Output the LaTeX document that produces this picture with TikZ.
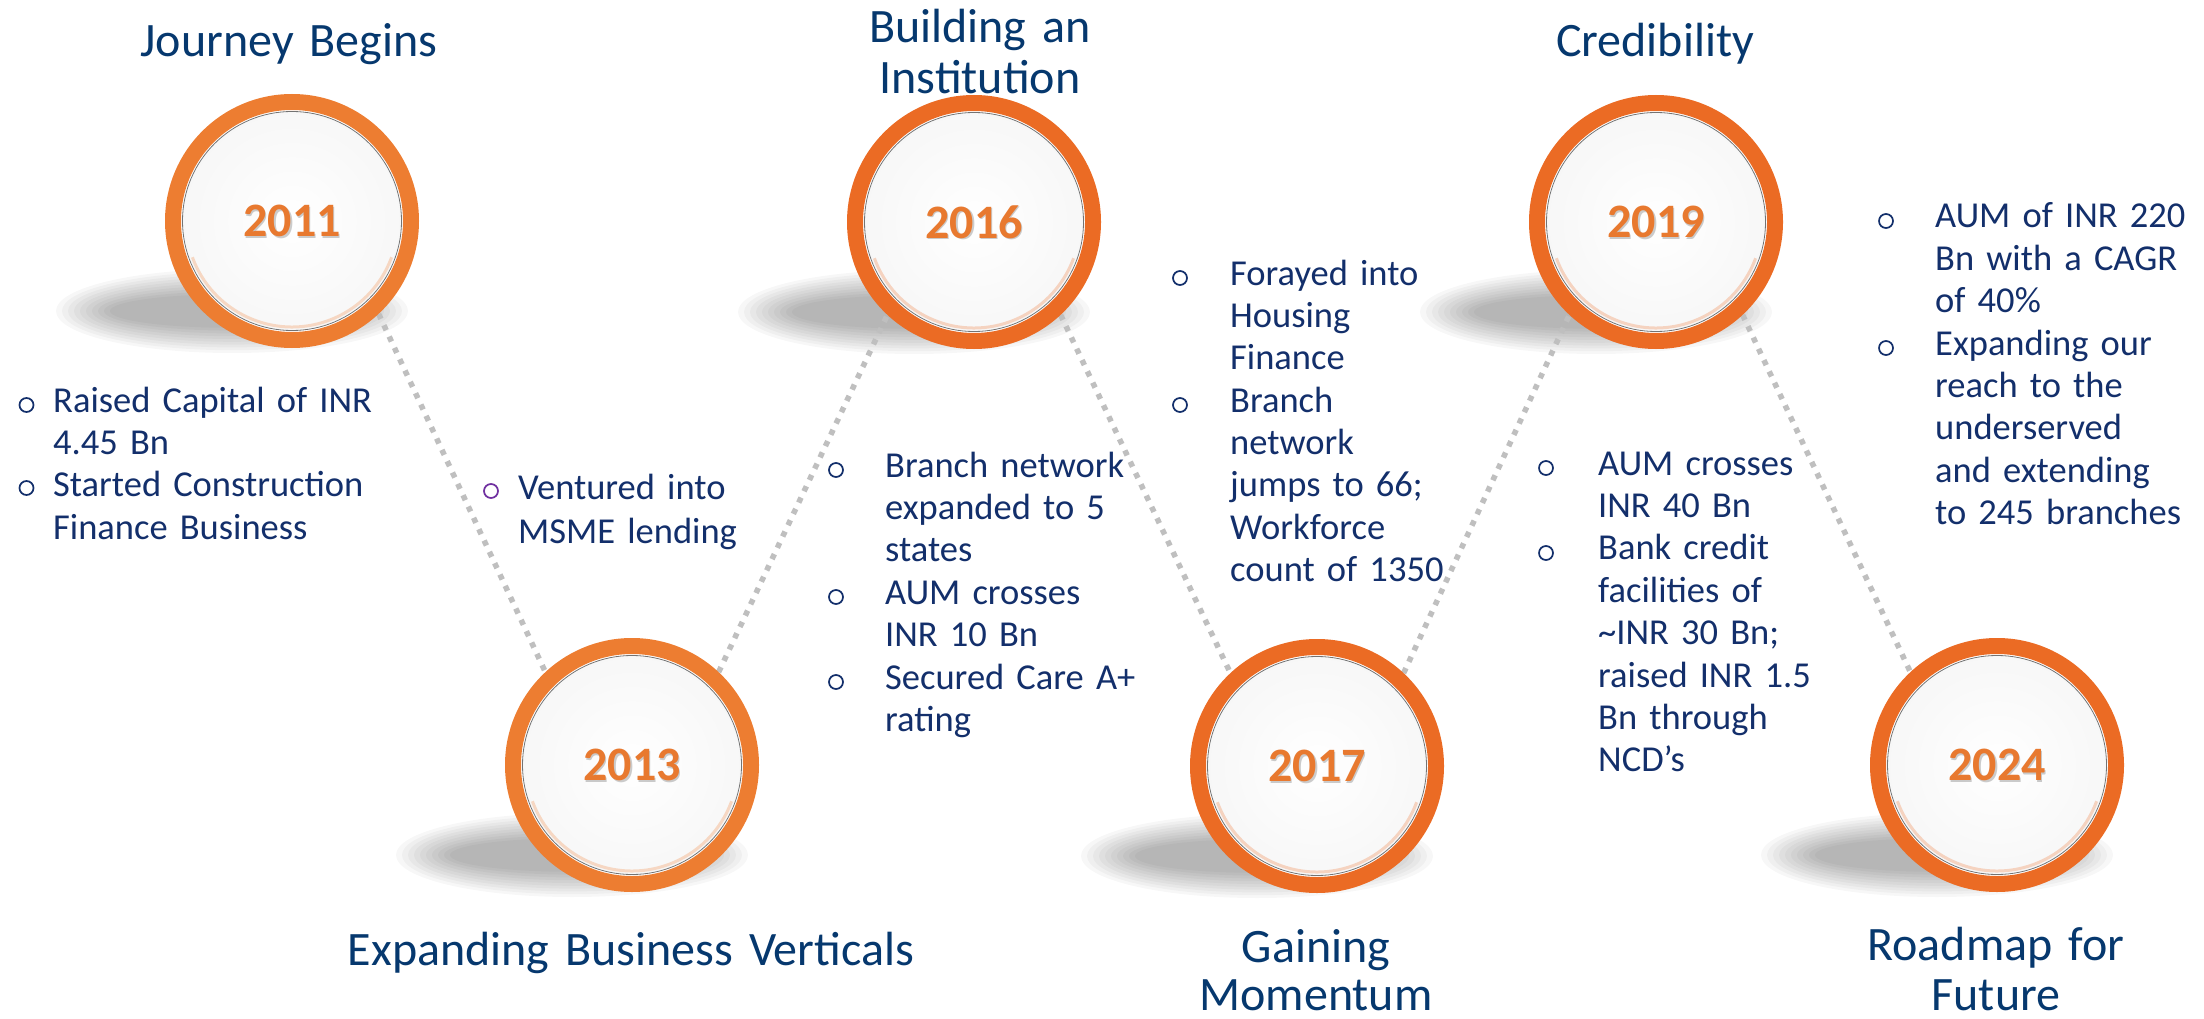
\documentclass[tikz,border=0pt]{standalone}
\usepackage{fontspec}
\setmainfont{Carlito}
\usetikzlibrary{backgrounds}
\definecolor{ringA}{HTML}{ED7D31}
\definecolor{ringB}{HTML}{EB6B24}
\definecolor{yearc}{HTML}{E8792F}
\definecolor{titlec}{HTML}{06386E}
\definecolor{bodyc}{HTML}{132F6B}
\definecolor{dotc}{HTML}{BFBFBF}
\definecolor{purp}{HTML}{7030A0}
\tikzset{
  ringnode/.style={circle, draw=#1, line width=16pt, minimum size=238pt, inner sep=0pt, fill=white},
  yeartxt/.style={font=\fontsize{48}{50}\selectfont\bfseries, text=yearc, inner sep=0pt},
  yearshadow/.style={font=\fontsize{48}{50}\selectfont\bfseries, text=black, opacity=0.2, inner sep=0pt},
  headtxt/.style={font=\fontsize{48}{50.5}\selectfont, text=titlec, align=center, text width=700pt, inner sep=0pt, anchor=base},
  bodytxt/.style={font=\fontsize{36.5}{42.4}\selectfont, text=bodyc, align=left, text width=420pt, inner sep=0pt, anchor=base west},
  bulletc/.style={draw=#1, line width=1.7pt},
  dotlink/.style={draw=dotc, line width=5.5pt, dash pattern=on 5.5pt off 7pt},
}
\begin{document}
\begin{tikzpicture}[x=1pt, y=-1pt]
\useasboundingbox (0,0) rectangle (2204,1019);

% circles
\node[ringnode=ringA] (c1) at (292,221) {};
\node[ringnode=ringA] (c2) at (632,765) {};
\node[ringnode=ringB] (c3) at (974,222) {};
\node[ringnode=ringB] (c4) at (1317,766) {};
\node[ringnode=ringB] (c5) at (1656,222) {};
\node[ringnode=ringB] (c6) at (1997,765) {};

\foreach \n/\rc in {c1/ringA,c2/ringA,c3/ringB,c4/ringB,c5/ringB,c6/ringB}{
  \shade[inner color=white, outer color=black!3] (\n.center) circle (109pt);
  \draw[\rc!60, line width=3pt, opacity=0.45] ([shift={(200:106pt)}]\n.center) arc (200:340:106pt);
  \draw[black!55, line width=0.8pt] (\n.center) circle (109.5pt);
}

% background, shadows and dotted connectors behind
\begin{scope}[on background layer]
\fill[white] (0,0) rectangle (2204,1019);
\foreach \n in {c1,c2,c3,c4,c5,c6}{
  \foreach \k in {0,...,9}{
    \pgfmathsetmacro\rx{176-6*\k}
    \pgfmathsetmacro\ry{42-2.8*\k}
    \fill[black, opacity=0.03] ([xshift=-60pt,yshift=-90pt]\n.center) ellipse (\rx pt and \ry pt);
  }
}
\draw[dotlink] (c1.-47) -- (c2.133);
\draw[dotlink] (c2.47) -- (c3.227);
\draw[dotlink] (c3.-47) -- (c4.133);
\draw[dotlink] (c4.47) -- (c5.227);
\draw[dotlink] (c5.-47) -- (c6.133);
\end{scope}

% years
\node[yearshadow] (s1) at ([xshift=1.5pt,yshift=-1.5pt]c1.center) {2011};
\node[yeartxt] (y1) at (c1.center) {2011};
\node[yearshadow] (s2) at ([xshift=1.5pt,yshift=-1.5pt]c2.center) {2013};
\node[yeartxt] (y2) at (c2.center) {2013};
\node[yearshadow] (s3) at ([xshift=1.5pt,yshift=-1.5pt]c3.center) {2016};
\node[yeartxt] (y3) at (c3.center) {2016};
\node[yearshadow] (s4) at ([xshift=1.5pt,yshift=-1.5pt]c4.center) {2017};
\node[yeartxt] (y4) at (c4.center) {2017};
\node[yearshadow] (s5) at ([xshift=1.5pt,yshift=-1.5pt]c5.center) {2019};
\node[yeartxt] (y5) at (c5.center) {2019};
\node[yearshadow] (s6) at ([xshift=1.5pt,yshift=-1.5pt]c6.center) {2024};
\node[yeartxt] (y6) at (c6.center) {2024};

% titles
\node[headtxt] (t1) at (289,57) {Journey Begins};
\node[headtxt] (t2) at (980,43) {Building an\\Institution};
\node[headtxt] (t3) at (1655,57) {Credibility};
\node[headtxt] (t4) at (631,965) {Expanding Business Verticals};
\node[headtxt, font=\fontsize{48}{48}\selectfont] (t5) at (1316,962) {Gaining\\Momentum};
\node[headtxt] (t6) at (1996,960) {Roadmap for\\Future};

% bullet texts
\node[bodytxt] (b1) at (53,412) {Raised Capital of INR\\4.45 Bn\\Started Construction\\Finance Business};
\draw[bulletc=bodyc] (26.5,405) circle (7pt);
\draw[bulletc=bodyc] (26.5,488) circle (7pt);

\node[bodytxt, font=\fontsize{36.5}{44}\selectfont] (b2) at (518,499) {Ventured into\\MSME lending};
\draw[bulletc=purp] (491,491) circle (7pt);

\node[bodytxt] (b3) at (885,477) {Branch network\\expanded to 5\\states\\AUM crosses\\INR 10 Bn\\Secured Care A+\\rating};
\draw[bulletc=bodyc] (836,470) circle (7pt);
\draw[bulletc=bodyc] (836,597) circle (7pt);
\draw[bulletc=bodyc] (836,682) circle (7pt);

\node[bodytxt] (b4) at (1230,285) {Forayed into\\Housing\\Finance\\Branch\\network\\jumps to 66;\\Workforce\\count of 1350};
\draw[bulletc=bodyc] (1180,278) circle (7pt);
\draw[bulletc=bodyc] (1180,405) circle (7pt);

\node[bodytxt] (b5) at (1598,475) {AUM crosses\\INR 40 Bn\\Bank credit\\facilities of\\\textasciitilde{}INR 30 Bn;\\raised INR 1.5\\Bn through\\NCD’s};
\draw[bulletc=bodyc] (1546,468) circle (7pt);
\draw[bulletc=bodyc] (1546,553) circle (7pt);

\node[bodytxt] (b6) at (1935,228) {AUM of INR 220\\Bn with a CAGR\\of 40\%\\Expanding our\\reach to the\\underserved\\and extending\\to 245 branches};
\draw[bulletc=bodyc] (1886,221) circle (7pt);
\draw[bulletc=bodyc] (1886,348) circle (7pt);
\end{tikzpicture}
\end{document}
